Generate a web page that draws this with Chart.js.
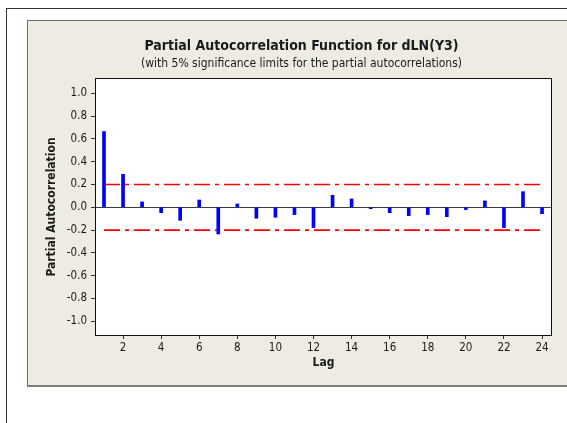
<!DOCTYPE html>
<html>
<head>
<meta charset="utf-8">
<script src="https://cdn.jsdelivr.net/npm/chart.js@4"></script>
<style>
  html, body { margin: 0; padding: 0; background: #fff; overflow: hidden; width: 567px; height: 423px; }
  #frame { position: absolute; left: 6px; top: 8px; width: 1000px; height: 1000px; border-left: 1px solid #333; border-top: 1px solid #333; }
  #panel { position: absolute; left: 27px; top: 20px; width: 547px; height: 364px; background: #eeebe2;
           border-left: 1px solid #6e6e6e; border-top: 1px solid #6e6e6e; border-bottom: 2px solid #7c7c7c; }
  #chart { display: block; }
</style>
</head>
<body>
<div id="frame"></div>
<div id="panel"><canvas id="chart" width="547" height="364"></canvas></div>
<script>
const lags = [1, 2, 3, 4, 5, 6, 7, 8, 9, 10, 11, 12, 13, 14, 15, 16, 17, 18, 19, 20, 21, 22, 23, 24];
const pacf = [0.664, 0.289, 0.047, -0.047, -0.114, 0.064, -0.234, 0.029, -0.096, -0.088, -0.064, -0.178,
              0.105, 0.073, -0.012, -0.047, -0.073, -0.064, -0.082, -0.020, 0.056, -0.178, 0.137, -0.056];
const sigUpper = [0.2, 0.2];
const sigLower = [-0.2, -0.2];
const sigLags = [1, 24];
const xTicks = [2, 4, 6, 8, 10, 12, 14, 16, 18, 20, 22, 24];
const yTicks = [-1.0, -0.8, -0.6, -0.4, -0.2, 0.0, 0.2, 0.4, 0.6, 0.8, 1.0];

const FONT = "'DejaVu Sans Condensed', 'DejaVu Sans', sans-serif";
const TEXT = '#1a1a1a';

const plotFrame = {
  id: 'plotFrame',
  beforeDraw(chart) {
    const { ctx, chartArea: a } = chart;
    ctx.save();
    ctx.fillStyle = '#fff';
    ctx.fillRect(a.left, a.top, a.right - a.left, a.bottom - a.top);
    ctx.restore();
  },
  afterDraw(chart) {
    const { ctx, chartArea: a } = chart;
    ctx.save();
    ctx.strokeStyle = '#111';
    ctx.lineWidth = 1;
    ctx.strokeRect(a.left - 0.5, a.top - 0.5, a.right - a.left + 1, a.bottom - a.top + 1);
    ctx.restore();
  }
};

new Chart(document.getElementById('chart'), {
  type: 'bar',
  data: {
    datasets: [
      {
        type: 'line',
        data: sigLags.map((x, i) => ({ x, y: sigUpper[i] })),
        borderColor: '#ff0000',
        borderWidth: 1.6,
        borderDash: [16, 5, 4, 5],
        pointRadius: 0,
        order: 2
      },
      {
        type: 'line',
        data: sigLags.map((x, i) => ({ x, y: sigLower[i] })),
        borderColor: '#ff0000',
        borderWidth: 1.6,
        borderDash: [16, 5, 4, 5],
        pointRadius: 0,
        order: 2
      },
      {
        label: 'PACF',
        data: lags.map((x, i) => ({ x, y: pacf[i] })),
        backgroundColor: '#0000ff',
        borderWidth: 0,
        barThickness: 3,
        order: 1
      }
    ]
  },
  options: {
    responsive: false,
    animation: false,
    layout: { padding: 0 },
    plugins: {
      legend: { display: false },
      tooltip: { enabled: false },
      title: {
        display: true,
        text: 'Partial Autocorrelation Function for dLN(Y3)',
        color: TEXT,
        font: { family: FONT, size: 14, weight: 'bold', lineHeight: 1.2 },
        padding: { top: 17.1, bottom: 0 }
      },
      subtitle: {
        display: true,
        text: '(with 5% significance limits for the partial autocorrelations)',
        color: TEXT,
        font: { family: FONT, size: 12, lineHeight: 1.2 },
        padding: { top: 1.9, bottom: 7.8 }
      }
    },
    scales: {
      x: {
        type: 'linear',
        offset: false,
        min: 0.58,
        max: 24.47,
        afterBuildTicks: s => { s.ticks = xTicks.map(v => ({ value: v })); },
        afterFit: s => { s.height = 50; },
        grid: { offset: false, color: 'rgba(0,0,0,0)', tickColor: '#333', tickLength: 4, drawOnChartArea: false },
        border: { display: false },
        ticks: { color: TEXT, padding: 2, maxRotation: 0, font: { family: FONT, size: 11.5 } },
        title: {
          display: true,
          text: 'Lag',
          color: TEXT,
          font: { family: FONT, size: 12, weight: 'bold', lineHeight: 1.2 },
          padding: { top: 0, bottom: 14.5 }
        }
      },
      y: {
        min: -1.12,
        max: 1.125,
        afterBuildTicks: s => { s.ticks = yTicks.map(v => ({ value: v })); },
        afterFit: s => { s.width = 68; },
        grid: {
          color: c => (c.tick && c.tick.value === 0 ? '#3c3c3c' : 'rgba(0,0,0,0)'),
          tickColor: '#333',
          tickLength: 5
        },
        border: { display: false },
        ticks: {
          color: TEXT,
          padding: 4,
          font: { family: FONT, size: 11.5 },
          callback: v => v.toFixed(1)
        },
        title: {
          display: true,
          text: 'Partial Autocorrelation',
          color: TEXT,
          font: { family: FONT, size: 12, weight: 'bold', lineHeight: 1.2 },
          padding: { top: 16.5, bottom: 0 }
        }
      },
      yr: {
        position: 'right',
        afterFit: s => { s.width = 24; },
        grid: { display: false },
        border: { display: false },
        ticks: { display: false }
      }
    }
  },
  plugins: [plotFrame]
});
</script>
</body>
</html>
